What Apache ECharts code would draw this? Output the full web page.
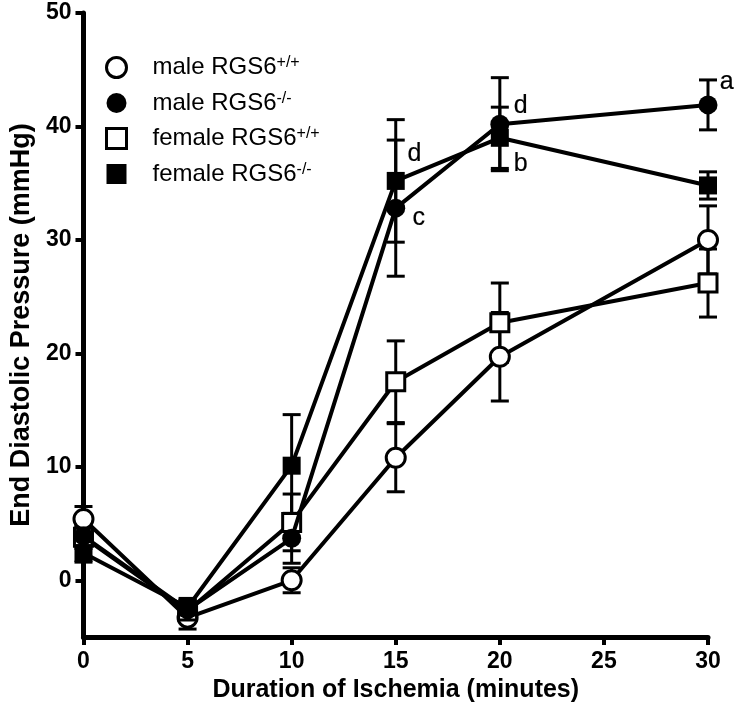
<!DOCTYPE html>
<html>
<head>
<meta charset="utf-8">
<script src="https://cdn.jsdelivr.net/npm/echarts@6/dist/echarts.min.js"></script>
<style>
html,body{margin:0;padding:0;background:#fff;}
#chart{width:737px;height:715px;}
</style>
</head>
<body>
<div id="chart"></div>
<script>
// ---- data ----
var minutes = [0, 5, 10, 15, 20, 30];
var seriesNames = ['male RGS6+/+', 'male RGS6-/-', 'female RGS6+/+', 'female RGS6-/-'];
var maleWT = [5.4, -3.3, 0.0, 10.8, 19.7, 30.0];
var maleWTErr = [1.1, 1.0, 1.1, 3.0, 3.9, 3.0];
var maleKO = [3.9, -2.6, 3.7, 32.8, 40.2, 41.9];
var maleKOErr = [0.8, 0.8, 2.2, 6.0, 4.1, 2.2];
var femaleWT = [3.8, -2.7, 5.1, 17.5, 22.7, 26.2];
var femaleWTErr = [1.0, 0.8, 2.5, 3.6, 3.5, 3.0];
var femaleKO = [2.4, -2.4, 10.1, 35.2, 39.0, 34.8];
var femaleKOErr = [0.8, 0.8, 4.5, 5.4, 2.7, 1.2];
var yTicks = [0, 10, 20, 30, 40, 50];
var annotX = [30.9, 21.0, 21.0, 15.9, 16.1];
var annotY = [43.9, 41.8, 36.7, 37.6, 31.9];
var annotText = ['a', 'd', 'b', 'd', 'c'];

var chart = echarts.init(document.getElementById('chart'), null, {renderer: 'canvas'});

function pairs(vals, errs) {
  return minutes.map(function (m, i) { return errs ? [m, vals[i], errs[i]] : [m, vals[i]]; });
}

var groups = [
  {name: seriesNames[0], vals: maleWT, errs: maleWTErr, symbol: 'circle', open: true, z: 3},
  {name: seriesNames[1], vals: maleKO, errs: maleKOErr, symbol: 'circle', open: false, z: 5},
  {name: seriesNames[2], vals: femaleWT, errs: femaleWTErr, symbol: 'rect', open: true, z: 4},
  {name: seriesNames[3], vals: femaleKO, errs: femaleKOErr, symbol: 'rect', open: false, z: 6}
];

var series = [];
groups.forEach(function (g) {
  series.push({
    name: g.name + ' err',
    type: 'custom',
    z: 1,
    silent: true,
    data: pairs(g.vals, g.errs),
    renderItem: function (params, api) {
      var x = api.value(0), y = api.value(1), e = api.value(2);
      var t = api.coord([x, y + e]);
      var b = api.coord([x, y - e]);
      var hw = 9;
      var st = {stroke: '#000', lineWidth: 3};
      return {
        type: 'group',
        children: [
          {type: 'line', shape: {x1: t[0], y1: t[1], x2: b[0], y2: b[1]}, style: st},
          {type: 'line', shape: {x1: t[0] - hw, y1: t[1], x2: t[0] + hw, y2: t[1]}, style: st},
          {type: 'line', shape: {x1: b[0] - hw, y1: b[1], x2: b[0] + hw, y2: b[1]}, style: st}
        ]
      };
    }
  });
});
groups.forEach(function (g) {
  series.push({
    name: g.name,
    type: 'line',
    z: g.z,
    data: pairs(g.vals),
    symbol: g.symbol,
    symbolSize: g.symbol === 'circle' ? 19 : 18,
    showAllSymbol: true,
    lineStyle: {color: '#000', width: 4},
    itemStyle: g.open ? {color: '#fff', borderColor: '#000', borderWidth: 3, opacity: 1}
                      : {color: '#000', borderColor: '#000', borderWidth: 0, opacity: 1},
    emphasis: {disabled: true},
    animation: false
  });
});
series.push({
  name: 'annotations',
  type: 'scatter',
  z: 8,
  symbolSize: 1,
  itemStyle: {color: '#fff', opacity: 0},
  data: annotX.map(function (x, i) { return {value: [x, annotY[i]], name: annotText[i]}; }),
  label: {
    show: true,
    position: 'inside',
    formatter: function (p) { return p.name; },
    fontFamily: 'Liberation Sans',
    fontSize: 25,
    color: '#000',
    opacity: 1,
    textBorderColor: '#000',
    textBorderWidth: 0.2
  },
  clip: false,
  silent: true
});

function legendLabel(name) {
  var m = name.match(/^(.*RGS6)(.*)$/);
  return '{n|' + m[1] + '}{s|' + m[2] + '}';
}

var option = {
  backgroundColor: '#fff',
  animation: false,
  grid: {left: 83, right: 29, top: 13, bottom: 78, containLabel: false},
  legend: {
    orient: 'vertical',
    left: 100,
    top: 50,
    itemWidth: 20,
    itemHeight: 20,
    itemGap: 11,
    selectedMode: false,
    data: [
      {name: seriesNames[0], icon: 'circle', itemStyle: {color: '#fff', borderColor: '#000', borderWidth: 3}},
      {name: seriesNames[1], icon: 'circle', itemStyle: {color: '#000', borderColor: '#000', borderWidth: 0}},
      {name: seriesNames[2], icon: 'rect', itemStyle: {color: '#fff', borderColor: '#000', borderWidth: 3}},
      {name: seriesNames[3], icon: 'rect', itemStyle: {color: '#000', borderColor: '#000', borderWidth: 0}}
    ],
    formatter: legendLabel,
    textStyle: {
      color: '#000',
      rich: {
        n: {fontFamily: 'Liberation Sans', fontSize: 24, lineHeight: 25, color: '#000', padding: [0, 0, 0, 21]},
        s: {fontFamily: 'Liberation Sans', fontSize: 16, lineHeight: 16, color: '#000', verticalAlign: 'top', padding: [0, 0, 8, 0]}
      }
    }
  },
  xAxis: {
    type: 'value',
    min: 0,
    max: 30,
    interval: 5,
    name: 'Duration of Ischemia (minutes)',
    nameLocation: 'middle',
    nameGap: 36,
    nameTextStyle: {fontFamily: 'Liberation Sans', fontWeight: 'bold', fontSize: 25, color: '#000'},
    axisLine: {show: true, onZero: false, lineStyle: {color: '#000', width: 5}},
    axisTick: {show: true, inside: false, length: 8, lineStyle: {color: '#000', width: 4}},
    axisLabel: {margin: 13, fontFamily: 'Liberation Sans', fontWeight: 'bold', fontSize: 23, color: '#000'},
    splitLine: {show: false}
  },
  yAxis: {
    type: 'value',
    min: -5,
    max: 50,
    name: 'End Diastolic Pressure (mmHg)',
    nameLocation: 'middle',
    nameGap: 46,
    nameRotate: 90,
    nameTextStyle: {fontFamily: 'Liberation Sans', fontWeight: 'bold', fontSize: 27, color: '#000'},
    axisLine: {show: true, onZero: false, lineStyle: {color: '#000', width: 5}},
    axisTick: {show: true, inside: false, length: 8, lineStyle: {color: '#000', width: 4}, customValues: yTicks},
    axisLabel: {margin: 12, fontFamily: 'Liberation Sans', fontWeight: 'bold', fontSize: 23, color: '#000', customValues: yTicks},
    splitLine: {show: false}
  },
  series: series
};
chart.setOption(option);
</script>
</body>
</html>
